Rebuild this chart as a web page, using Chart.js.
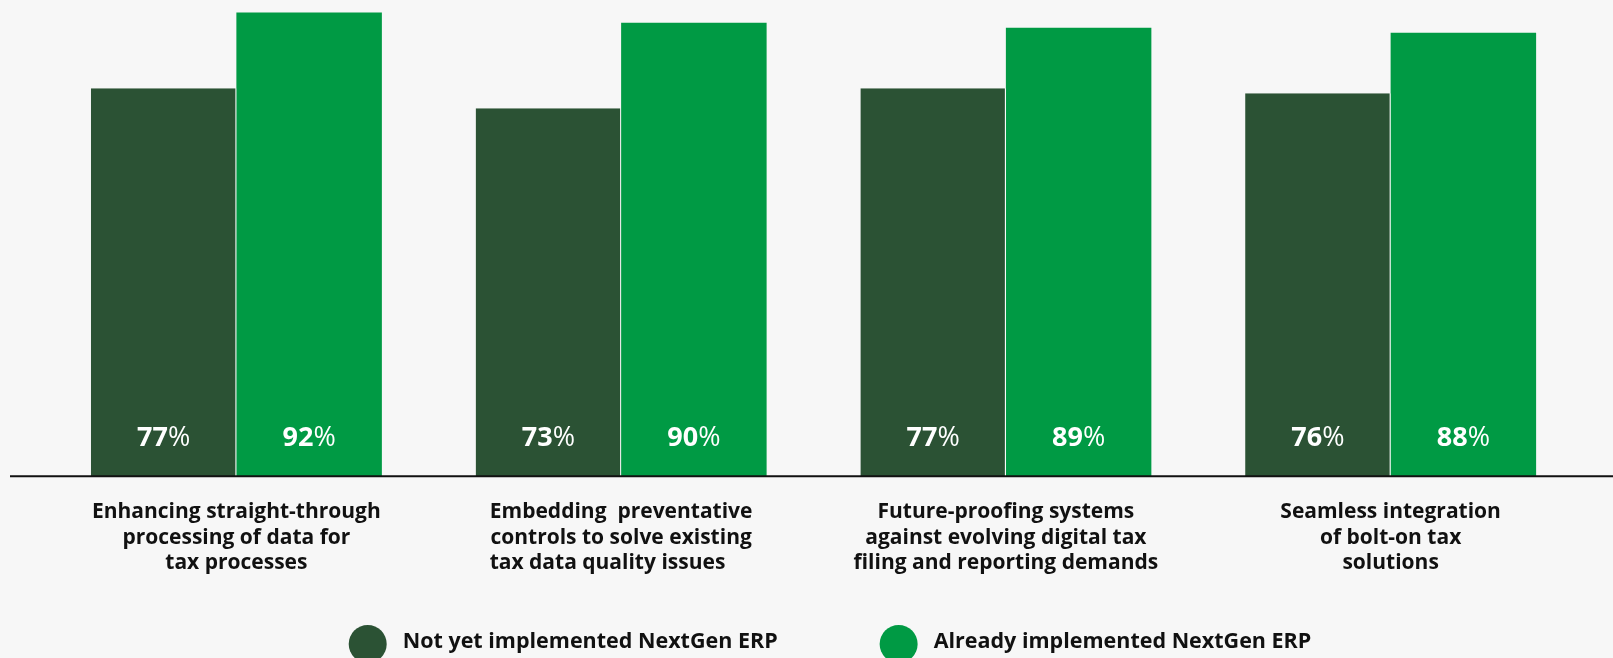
<!DOCTYPE html>
<html>
<head>
<meta charset="utf-8">
<script src="https://cdn.jsdelivr.net/npm/chart.js@4"></script>
<style>
  html, body { margin: 0; padding: 0; background: #f7f7f7; }
  #wrap { width: 1613px; height: 658px; }
</style>
</head>
<body>
<div id="wrap"><canvas id="erpChart"></canvas></div>
<script>
// Categories (multi-line tick labels) and series values
const categories = [
    ['Enhancing straight-through', 'processing of data for', 'tax processes'],
    ['Embedding  preventative', 'controls to solve existing', 'tax data quality issues     '],
    ['Future-proofing systems', 'against evolving digital tax', 'filing and reporting demands'],
    ['Seamless integration', 'of bolt-on tax', 'solutions']
];
const seriesNames = ['Not yet implemented NextGen ERP', 'Already implemented NextGen ERP'];
const notYetValues = [77, 73, 77, 76];
const alreadyValues = [92, 90, 89, 88];

const DARK = '#2b5234';
const GREEN = '#009a44';
const FONT = '"Open Sans", sans-serif';

// Bold number + regular "%" inside the foot of each bar
const valueLabels = {
    id: 'valueLabels',
    afterDatasetsDraw(chart) {
        const ctx = chart.ctx;
        const y = chart.scales.y.getPixelForValue(0) - 38;
        ctx.save();
        ctx.fillStyle = '#ffffff';
        ctx.textBaseline = 'middle';
        ctx.textAlign = 'left';
        chart.data.datasets.forEach((ds, di) => {
            chart.getDatasetMeta(di).data.forEach((bar, i) => {
                const num = String(ds.data[i]);
                ctx.font = 'bold 27px ' + FONT;
                const wNum = ctx.measureText(num).width;
                ctx.font = '27px ' + FONT;
                const wPct = ctx.measureText('%').width;
                const x0 = bar.x - (wNum + wPct) / 2;
                ctx.font = 'bold 27px ' + FONT;
                ctx.fillText(num, x0, y);
                ctx.font = '27px ' + FONT;
                ctx.fillText('%', x0 + wNum, y);
            });
        });
        ctx.restore();
    }
};

// Baseline running across the full width
const baseline = {
    id: 'baseline',
    afterDatasetsDraw(chart) {
        const ctx = chart.ctx;
        const y = chart.scales.y.getPixelForValue(0);
        ctx.save();
        ctx.strokeStyle = '#111111';
        ctx.lineWidth = 2;
        ctx.beginPath();
        ctx.moveTo(10, y);
        ctx.lineTo(chart.width, y);
        ctx.stroke();
        ctx.restore();
    }
};

// Legend with large round swatches
const dotLegend = {
    id: 'dotLegend',
    afterDraw(chart) {
        const ctx = chart.ctx;
        const r = 19, gapText = 16, gapItems = 102;
        const cy = 643;
        ctx.save();
        ctx.font = 'bold 21.5px ' + FONT;
        const items = chart.data.datasets.map(ds => ({
            label: ds.label,
            color: ds.backgroundColor,
            w: 2 * r + gapText + ctx.measureText(ds.label).width
        }));
        const total = items.reduce((s, it) => s + it.w, 0) + gapItems * (items.length - 1);
        let x = 830 - total / 2;
        items.forEach(it => {
            ctx.fillStyle = it.color;
            ctx.beginPath();
            ctx.arc(x + r, cy + 1, r, 0, Math.PI * 2);
            ctx.fill();
            ctx.fillStyle = '#111111';
            ctx.textBaseline = 'middle';
            ctx.fillText(it.label, x + 2 * r + gapText, cy - 1);
            x += it.w + gapItems;
        });
        ctx.restore();
    }
};

const ctx = document.getElementById('erpChart').getContext('2d');
new Chart(ctx, {
    type: 'bar',
    data: {
        labels: categories,
        datasets: [{
            label: seriesNames[0],
            data: notYetValues,
            backgroundColor: DARK,
            borderColor: '#ffffff',
            borderWidth: { top: 0, right: 1, bottom: 0, left: 0 },
            borderSkipped: false
        }, {
            label: seriesNames[1],
            data: alreadyValues,
            backgroundColor: GREEN,
            borderWidth: 0
        }]
    },
    options: {
        responsive: true,
        maintainAspectRatio: false,
        animation: false,
        categoryPercentage: 0.7563,
        barPercentage: 1,
        layout: {
            padding: { top: 0, left: 44, right: 30, bottom: 59 }
        },
        plugins: {
            legend: { display: false },
            tooltip: { enabled: false }
        },
        scales: {
            x: {
                grid: { display: false, drawTicks: false },
                border: { display: false },
                ticks: {
                    color: '#111111',
                    padding: 23,
                    maxRotation: 0,
                    autoSkip: false,
                    font: { family: FONT, size: 21, weight: 'bold', lineHeight: 1.22 }
                }
            },
            y: {
                display: false,
                min: 0,
                max: 94.5
            }
        }
    },
    plugins: [valueLabels, baseline, dotLegend]
});
</script>
</body>
</html>
